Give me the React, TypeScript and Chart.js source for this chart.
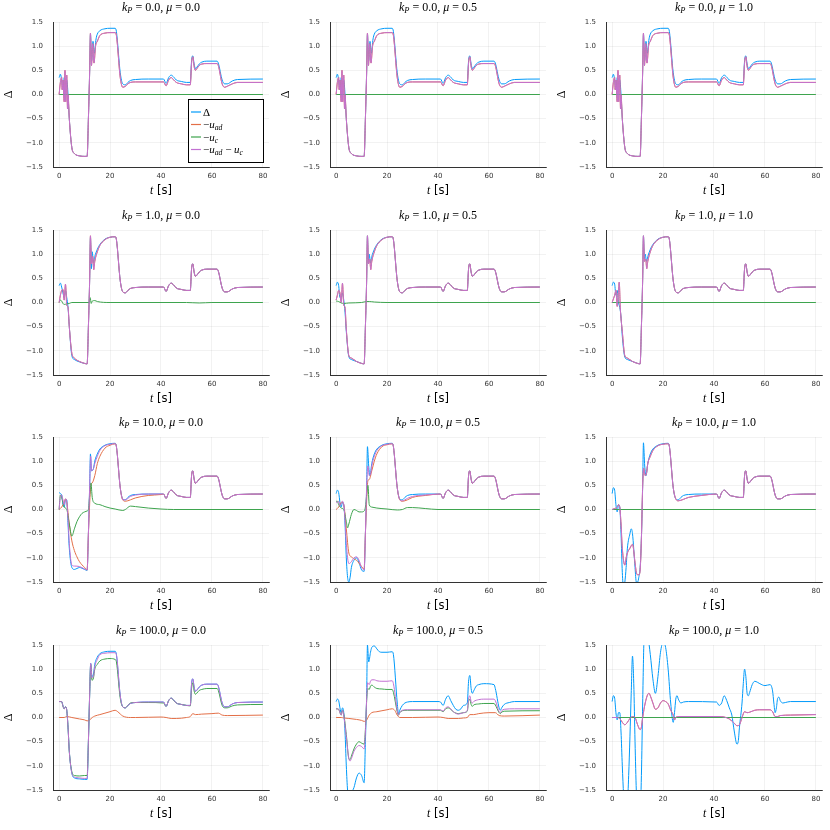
import { useEffect, useRef } from "react";
import { Chart, registerables, type ChartConfiguration } from "chart.js";

Chart.register(...registerables);

// Paleta padrão do Plots.jl
const BLUE = "#009afa";
const ORANGE = "#e36f47";
const GREEN = "#3ea44e";
const PURPLE = "#c271d2";

const SERIF = "'Liberation Serif', serif";
const SANS = "'DejaVu Sans', sans-serif";

const KP_LABELS = ["0.0", "1.0", "10.0", "100.0"];
const MU_LABELS = ["0.0", "0.5", "1.0"];
const X_TICKS = [0, 20, 40, 60, 80];
const Y_TICKS = [-1.5, -1.0, -0.5, 0.0, 0.5, 1.0, 1.5];

type Pts = number[][];

const ZERO: Pts = [[0, 0], [80, 0]];

// trechos finais comuns do Δ (t > 22)
const MID_REF: Pts = [[22.5, 1.3], [24, 0.45], [25, 0.22], [26, 0.2], [27, 0.25], [28, 0.29], [30, 0.31], [35, 0.32], [41, 0.32]];
const LATE_REF: Pts = [
  [42, 0.23], [43, 0.35], [44, 0.4], [45, 0.36], [46, 0.3], [48, 0.27], [50, 0.25], [51.5, 0.25], [52, 0.7], [52.5, 0.8],
  [53, 0.63], [53.5, 0.54], [54, 0.56], [55, 0.63], [56, 0.67], [58, 0.69], [62, 0.69], [62.5, 0.65], [64, 0.3], [65, 0.22],
  [66, 0.22], [68, 0.28], [70, 0.31], [80, 0.32],
];

// k_P = 0
const KP0_DELTA_HEAD: Pts = [
  [0, 0.35], [0.5, 0.42], [1, 0.3], [1.5, 0.1], [2, 0.35], [2.5, 0.2], [3, 0.3], [3.5, 0], [4, -0.5], [5, -1.1], [6, -1.22],
  [8, -1.27], [10, -1.28], [11, -1.28], [11.5, -0.5], [12, 0.5], [12.3, 1.25], [12.8, 0.7], [13.3, 1.1], [13.8, 0.85],
  [14.5, 1.15], [15, 1.25], [16, 1.32], [18, 1.36], [20, 1.37], [22, 1.37],
];
const KP0_CMD_HEAD: Pts = [
  [0, 0], [0.5, 0.25], [1, 0.35], [1.2, 0.1], [1.5, 0.3], [2, -0.15], [2.3, 0.5], [2.6, -0.15], [3, 0.4], [3.3, -0.3],
  [3.5, 0], [4, -0.5], [5, -1.1], [6, -1.22], [8, -1.27], [10, -1.28], [11, -1.28], [11.5, -0.5], [12, 0.5], [12.3, 1.27],
  [12.7, 0.6], [13.2, 1.05], [13.7, 0.65], [14.3, 1.0], [15, 1.1], [16, 1.22], [18, 1.27], [20, 1.28], [22, 1.28],
];
const KP0_CMD_MID: Pts = [[22.5, 1.22], [24, 0.35], [25, 0.15], [26, 0.17], [27, 0.22], [28, 0.25], [30, 0.26], [41, 0.26]];
const KP0_CMD_LATE: Pts = [
  [42, 0.18], [43, 0.3], [44, 0.35], [45, 0.3], [46, 0.25], [48, 0.22], [50, 0.2], [51.5, 0.2], [52, 0.65], [52.5, 0.78],
  [53, 0.58], [53.5, 0.5], [54, 0.53], [55, 0.6], [56, 0.63], [58, 0.64], [62, 0.64], [62.5, 0.6], [64, 0.22], [65, 0.15],
  [66, 0.17], [68, 0.22], [70, 0.25], [80, 0.25],
];

// k_P = 1
const KP1_MU0_DELTA_HEAD: Pts = [
  [0, 0.35], [0.5, 0.4], [1, 0.32], [1.5, 0.2], [2, 0.1], [2.5, 0.25], [3, 0.1], [3.5, -0.1], [4, -0.5], [5, -1.1],
  [6, -1.18], [8, -1.23], [10, -1.26], [11, -1.27], [11.5, -0.5], [12, 0.5], [12.3, 1.35], [12.7, 0.7], [13, 1.05],
  [13.5, 0.82], [14, 0.95], [15, 1.1], [16, 1.2], [18, 1.31], [20, 1.35], [22, 1.36],
];
const KP1_MU0_CMD_HEAD: Pts = [
  [0, 0], [0.5, 0.15], [1, 0.25], [1.5, 0.27], [2, 0.05], [2.5, 0.38], [3, -0.05], [3.5, -0.1], [4, -0.5], [5, -1.05],
  [6, -1.15], [8, -1.22], [10, -1.26], [11, -1.27], [11.5, -0.5], [12, 0.5], [12.3, 1.38], [12.7, 0.8], [13.2, 0.95],
  [13.6, 0.68], [14, 0.85], [15, 1.05], [16, 1.18], [18, 1.3], [20, 1.35], [22, 1.36],
];
const KP1_MU0_UC: Pts = [
  [0, 0], [0.5, 0.05], [1, 0.03], [1.5, -0.02], [2, -0.04], [3, -0.03], [4, -0.02], [5, 0], [11.8, 0], [12.2, 0.1],
  [12.6, -0.02], [13, 0.03], [14, 0.04], [15, 0.02], [20, 0], [50, 0], [55, -0.01], [60, 0], [80, 0],
];
const KP1_MU05_DELTA_HEAD: Pts = [
  [0, 0.35], [0.5, 0.42], [1, 0.35], [1.5, 0.1], [2, 0.1], [2.5, 0.2], [3, 0.05], [3.5, -0.2], [4, -0.6], [5, -1.12],
  [6, -1.18], [8, -1.22], [10, -1.26], [11, -1.27], [11.5, -0.5], [12, 0.5], [12.3, 1.38], [12.7, 0.8], [13, 1.0],
  [13.5, 0.82], [14, 0.95], [15, 1.1], [16, 1.2], [18, 1.31], [20, 1.35], [22, 1.36],
];
const KP1_MU05_CMD_HEAD: Pts = [
  [0, 0.05], [0.5, 0.15], [1, 0.25], [1.5, 0.2], [2, 0], [2.5, 0.4], [3, -0.05], [3.5, -0.1], [4, -0.55], [5, -1.1],
  [6, -1.15], [8, -1.22], [10, -1.26], [11, -1.27], [11.5, -0.5], [12, 0.5], [12.3, 1.38], [12.7, 0.8], [13.2, 0.9],
  [13.6, 0.68], [14, 0.85], [15, 1.05], [16, 1.18], [18, 1.3], [20, 1.35], [22, 1.36],
];
const KP1_MU05_UC: Pts = [
  [0, 0.03], [1, 0.02], [2, -0.01], [3, -0.02], [5, -0.01], [10, 0], [12, 0.02], [13, 0.02], [15, 0.01], [20, 0], [80, 0],
];
const KP1_MU1_DELTA_HEAD: Pts = [
  [0, 0.35], [0.5, 0.42], [1, 0.38], [1.5, 0.15], [2, 0.25], [2.5, 0], [3, -0.1], [3.5, -0.3], [4, -0.7], [5, -1.13],
  [6, -1.18], [8, -1.22], [10, -1.26], [11, -1.27], [11.5, -0.5], [12, 0.5], [12.3, 1.38], [12.7, 0.9], [13, 1.0],
  [13.5, 0.85], [14, 0.95], [15, 1.1], [16, 1.2], [18, 1.31], [20, 1.35], [22, 1.36],
];
const KP1_MU1_CMD_HEAD: Pts = [
  [0, 0], [1, 0.15], [1.5, 0.25], [2, -0.08], [2.5, 0.25], [2.8, 0.42], [3.2, -0.1], [4, -0.6], [5, -1.1], [6, -1.15],
  [8, -1.22], [10, -1.26], [11, -1.27], [11.5, -0.5], [12, 0.5], [12.3, 1.38], [12.7, 0.85], [13.2, 0.9], [13.6, 0.7],
  [14, 0.85], [15, 1.05], [16, 1.18], [18, 1.3], [20, 1.35], [22, 1.36],
];

// k_P = 10
const KP10_MU0_DELTA_HEAD: Pts = [
  [0, 0.35], [0.5, 0.33], [1, 0.3], [1.5, 0.1], [2, 0.05], [2.5, 0.2], [3, 0.2], [3.5, -0.3], [4, -0.8], [5, -1.2],
  [6, -1.24], [7, -1.22], [8, -1.2], [10, -1.24], [11, -1.26], [11.5, -0.5], [12, 0.5], [12.3, 1.15], [12.7, 0.8],
  [13.5, 0.85], [14, 1.0], [15, 1.15], [16, 1.25], [18, 1.33], [20, 1.36], [22, 1.37],
];
const KP10_MU0_UAD: Pts = [
  [0, 0], [1, 0.05], [2, 0.15], [2.5, 0.22], [3, 0.15], [4, -0.3], [5, -0.65], [6, -0.85], [7, -0.98], [8, -1.08],
  [10, -1.2], [11, -1.25], [11.5, -0.5], [12.5, 0.5], [13, 0.55], [14, 0.7], [15, 0.95], [16, 1.1], [18, 1.27], [20, 1.33],
  [22, 1.36], [22.5, 1.3], [24, 0.45], [25, 0.2], [26, 0.17], [28, 0.2], [30, 0.24], [35, 0.29], [40, 0.31], [41, 0.32],
];
const KP10_MU0_UC: Pts = [
  [0, 0], [0.5, 0.3], [1, 0.25], [2, 0.05], [3, 0], [4, -0.3], [5, -0.55], [6, -0.4], [7, -0.25], [8, -0.15], [9, -0.08],
  [10, -0.05], [11, -0.03], [11.5, 0], [12, 0.3], [12.5, 0.55], [13, 0.25], [14, 0.13], [16, 0.1], [18, 0.06], [20, 0.03],
  [22, 0.01], [25, -0.02], [26, 0], [28, 0.07], [30, 0.06], [35, 0.03], [40, 0.01], [45, 0], [80, 0],
];
const KP10_MU0_CMD: Pts = [
  [0, 0], [0.5, 0.27], [1, 0.3], [1.5, 0.2], [2, 0.1], [2.5, 0.22], [3, 0.15], [3.5, -0.2], [4, -0.7], [5, -1.15],
  [6, -1.17], [8, -1.18], [10, -1.23], [11, -1.25], [11.5, -0.5], [12, 0.5], [12.4, 1.1], [12.8, 0.8], [13.5, 0.85],
  [14, 0.95], [15, 1.1], [16, 1.22], [18, 1.32], [20, 1.35], [22, 1.36], [22.5, 1.3], [24, 0.45], [25, 0.2], [26, 0.2],
  [28, 0.27], [30, 0.3], [35, 0.32], [41, 0.32],
];
const KP10_MU05_DELTA_HEAD: Pts = [
  [0, 0.33], [0.5, 0.4], [1, 0.35], [1.5, 0.15], [2, 0.05], [2.5, 0.15], [3, 0.1], [3.5, -0.3], [4, -1.0], [4.5, -1.4],
  [5, -1.5], [5.5, -1.4], [6, -1.2], [7, -1.05], [8, -1.0], [9, -1.1], [10, -1.25], [11, -1.28], [11.5, -0.5], [12, 0.5],
  [12.3, 1.3], [12.8, 0.9], [13.3, 0.7], [14, 0.95], [15, 1.15], [16, 1.25], [18, 1.33], [20, 1.36], [22, 1.37],
];
const KP10_MU05_UAD: Pts = [
  [0, 0], [1, 0.05], [2, 0.15], [3, 0.1], [4, -0.4], [5, -0.9], [6, -0.98], [7, -1.02], [8, -1.05], [10, -1.18],
  [11, -1.23], [11.5, -0.5], [12.5, 0.6], [13, 0.62], [14, 0.8], [15, 1.0], [16, 1.15], [18, 1.3], [20, 1.34], [22, 1.36],
  [22.5, 1.3], [24, 0.45], [25, 0.2], [26, 0.17], [28, 0.2], [30, 0.25], [35, 0.29], [41, 0.32],
];
const KP10_MU05_UC: Pts = [
  [0, 0.17], [0.5, 0.17], [1, 0.1], [2, 0.03], [3, 0], [4, -0.25], [4.5, -0.38], [5, -0.3], [6, -0.1], [7, 0], [8, -0.02],
  [9, -0.05], [10, -0.05], [11, -0.03], [11.5, 0.05], [12, 0.3], [12.5, 0.5], [13, 0.1], [14, 0.05], [16, 0.03], [20, 0.01],
  [24, -0.01], [26, 0], [28, 0.04], [30, 0.04], [35, 0.02], [40, 0], [80, 0],
];
const KP10_MU05_CMD: Pts = [
  [0, 0.15], [0.5, 0.15], [1, 0.17], [1.5, 0.08], [2, 0.12], [2.5, 0.17], [3, 0.1], [3.5, -0.2], [4, -0.7], [5, -1.12],
  [6, -1.08], [7, -1.0], [8, -0.98], [9, -1.05], [10, -1.2], [11, -1.25], [11.5, -0.5], [12, 0.5], [12.5, 0.9], [13, 0.7],
  [13.5, 0.72], [14, 0.9], [15, 1.1], [16, 1.22], [18, 1.32], [20, 1.35], [22, 1.36], [22.5, 1.3], [24, 0.45], [25, 0.2],
  [26, 0.18], [28, 0.23], [30, 0.27], [35, 0.3], [41, 0.32],
];
const KP10_MU1_DELTA_HEAD: Pts = [
  [0, 0.33], [0.5, 0.45], [1, 0.4], [1.5, 0.1], [2, -0.05], [2.5, 0.1], [3, 0.05], [3.5, -0.5], [4, -1.3], [4.5, -1.6],
  [5, -1.5], [5.5, -1.2], [6, -0.8], [7, -0.5], [7.5, -0.4], [8, -0.5], [9, -1.2], [9.5, -1.5], [10, -1.5], [10.5, -1.4],
  [11, -1.2], [11.5, -0.6], [12, 0.5], [12.3, 1.38], [12.8, 0.9], [13.3, 0.7], [14, 0.95], [15, 1.15], [16, 1.25],
  [18, 1.33], [20, 1.36], [22, 1.37],
];
const KP10_MU1_CMD: Pts = [
  [0, 0], [1, 0.02], [2, 0.05], [2.5, 0.1], [3, 0.05], [3.5, -0.3], [4, -0.8], [5, -1.15], [5.5, -1.0], [6, -0.9],
  [7, -0.8], [8, -0.72], [9, -1.1], [9.5, -1.3], [10, -1.35], [10.5, -1.35], [11, -1.25], [11.5, -0.6], [12, 0.5],
  [12.4, 0.85], [13, 0.7], [13.5, 0.75], [14, 0.95], [15, 1.1], [16, 1.22], [18, 1.32], [20, 1.35], [22, 1.36], [22.5, 1.3],
  [24, 0.45], [25, 0.22], [26, 0.18], [28, 0.21], [30, 0.25], [35, 0.29], [41, 0.32],
];

// k_P = 100
const KP100_MU0_DELTA_HEAD: Pts = [
  [0, 0.33], [0.5, 0.33], [1, 0.33], [1.5, 0.25], [2, 0.18], [2.5, 0.22], [3, 0.15], [3.5, -0.2], [4, -0.7], [5, -1.15],
  [6, -1.25], [8, -1.27], [10, -1.28], [11, -1.28], [11.5, -0.5], [12, 0.5], [12.4, 1.12], [12.9, 0.85], [13.5, 0.9],
  [14, 1.1], [15, 1.25], [16, 1.32], [18, 1.36], [20, 1.37], [22, 1.37],
];
const KP100_MU0_CMD_HEAD: Pts = [
  [0, 0.33], [0.5, 0.33], [1, 0.33], [1.5, 0.24], [2, 0.18], [2.5, 0.22], [3, 0.15], [3.5, -0.2], [4, -0.7], [5, -1.15],
  [6, -1.23], [8, -1.25], [10, -1.26], [11, -1.26], [11.5, -0.5], [12, 0.5], [12.4, 1.12], [12.9, 0.82], [13.5, 0.85],
  [14, 1.05], [15, 1.2], [16, 1.3], [18, 1.33], [20, 1.34], [22, 1.34],
];
const KP100_MU0_UC: Pts = [
  [0, 0.33], [1, 0.33], [1.5, 0.23], [2, 0.18], [2.5, 0.22], [3, 0.15], [3.5, -0.2], [4, -0.7], [5, -1.12], [6, -1.2],
  [8, -1.21], [10, -1.2], [11, -1.2], [11.5, -0.5], [12, 0.5], [12.4, 1.1], [12.9, 0.77], [13.5, 0.82], [14, 1.0], [15, 1.1],
  [16, 1.17], [18, 1.21], [20, 1.22], [22, 1.2], [22.5, 1.15], [24, 0.4], [25, 0.22], [26, 0.2], [27, 0.25], [28, 0.3],
  [30, 0.31], [35, 0.31], [41, 0.3], [42, 0.23], [43, 0.35], [44, 0.4], [45, 0.35], [46, 0.3], [48, 0.27], [50, 0.25],
  [51.5, 0.24], [52, 0.6], [52.5, 0.72], [53, 0.55], [53.5, 0.48], [54, 0.5], [55, 0.56], [56, 0.58], [58, 0.6], [62, 0.6],
  [62.5, 0.56], [64, 0.25], [65, 0.2], [66, 0.2], [68, 0.24], [70, 0.26], [80, 0.27],
];
const KP100_MU0_UAD: Pts = [
  [0, 0], [2, 0], [3, 0.02], [5, 0], [8, -0.03], [10, -0.05], [11, -0.07], [12, -0.05], [13, 0], [14, 0.03], [16, 0.06],
  [18, 0.09], [20, 0.12], [22, 0.15], [23, 0.12], [25, 0.03], [28, 0], [30, 0], [40, 0.01], [42, 0], [44, -0.02], [46, -0.02],
  [50, 0], [51.5, 0.02], [52.5, 0.08], [53.5, 0.06], [56, 0.07], [60, 0.08], [62.5, 0.09], [64, 0.05], [66, 0.04], [80, 0.05],
];
const KP100_MU05_DELTA: Pts = [
  [0, 0.33], [0.5, 0.38], [1, 0.35], [1.5, 0.2], [2, 0.1], [2.5, 0.2], [3, 0.1], [3.5, -0.3], [4, -1.0], [4.5, -1.5],
  [5, -1.6], [6, -1.55], [7, -1.45], [8, -1.25], [9, -1.15], [10, -1.2], [11, -1.35], [11.5, -0.5], [12, 0.5], [12.3, 1.5],
  [12.8, 1.15], [13.5, 1.35], [14, 1.45], [15, 1.48], [16, 1.42], [17, 1.36], [18, 1.35], [20, 1.35], [22, 1.36],
  [22.5, 1.3], [24, 0.3], [24.5, 0.08], [25, 0.15], [26, 0.25], [27, 0.3], [28, 0.32], [30, 0.33], [40, 0.33], [41, 0.32],
  [42, 0.25], [43, 0.38], [44, 0.45], [45, 0.35], [46, 0.25], [47, 0.17], [48, 0.15], [49, 0.18], [50, 0.25], [51.5, 0.3],
  [52, 0.75], [52.5, 0.87], [53, 0.6], [53.5, 0.5], [54, 0.55], [55, 0.65], [56, 0.68], [58, 0.7], [62, 0.68], [62.5, 0.6],
  [64, 0.2], [64.5, 0.15], [65, 0.2], [66, 0.27], [68, 0.31], [70, 0.33], [80, 0.33],
];
const KP100_MU05_UAD: Pts = [
  [0, 0], [2, 0], [3, -0.01], [5, -0.02], [8, -0.04], [10, -0.06], [11, -0.08], [12, -0.05], [13, 0.05], [14, 0.1],
  [16, 0.12], [18, 0.14], [20, 0.16], [22, 0.18], [23, 0.15], [24, 0.05], [25, 0], [30, 0], [40, 0.01], [42, 0],
  [44, -0.02], [48, -0.02], [50, -0.01], [51.5, 0], [52.5, 0.06], [54, 0.06], [56, 0.08], [60, 0.1], [62.5, 0.1], [64, 0.04],
  [66, 0.03], [80, 0.05],
];
const KP100_MU05_UC: Pts = [
  [0, 0.18], [1, 0.17], [1.5, 0.1], [2, 0.05], [2.5, 0.15], [3, 0.07], [4, -0.35], [5, -0.85], [5.5, -0.87], [6, -0.8],
  [7, -0.65], [8, -0.55], [9, -0.5], [10, -0.53], [11, -0.55], [11.5, -0.25], [12, 0.35], [12.4, 0.6], [13, 0.58],
  [13.5, 0.65], [14, 0.67], [15, 0.63], [16, 0.6], [18, 0.59], [20, 0.58], [22, 0.58], [22.5, 0.52], [24, 0.12],
  [24.5, 0.05], [25, 0.1], [26, 0.14], [28, 0.15], [41, 0.15], [42, 0.12], [43, 0.18], [44, 0.2], [45, 0.17], [46, 0.12],
  [48, 0.08], [50, 0.1], [51.5, 0.13], [52, 0.33], [52.5, 0.38], [53, 0.27], [53.5, 0.23], [54, 0.26], [56, 0.28],
  [58, 0.29], [62, 0.29], [62.5, 0.26], [64, 0.1], [64.5, 0.08], [65, 0.11], [66, 0.13], [80, 0.14],
];
const KP100_MU05_CMD: Pts = [
  [0, 0.18], [1, 0.17], [1.5, 0.1], [2, 0.05], [2.5, 0.15], [3, 0.05], [4, -0.4], [5, -0.85], [5.5, -0.9], [6, -0.85],
  [7, -0.7], [8, -0.62], [9, -0.58], [10, -0.6], [11, -0.65], [11.5, -0.3], [12, 0.4], [12.4, 0.72], [13, 0.68],
  [13.5, 0.75], [14, 0.78], [15, 0.78], [16, 0.76], [18, 0.75], [20, 0.75], [22, 0.76], [22.5, 0.7], [24, 0.15],
  [24.5, 0.05], [25, 0.1], [26, 0.15], [28, 0.16], [41, 0.16], [42, 0.13], [43, 0.2], [44, 0.22], [45, 0.18], [46, 0.12],
  [48, 0.07], [50, 0.1], [51.5, 0.15], [52, 0.38], [52.5, 0.45], [53, 0.33], [53.5, 0.3], [54, 0.33], [56, 0.37],
  [58, 0.38], [62, 0.38], [62.5, 0.35], [64, 0.12], [64.5, 0.1], [65, 0.14], [66, 0.17], [70, 0.18], [80, 0.18],
];
const KP100_MU1_DELTA: Pts = [
  [0, 0.33], [0.5, 0.45], [1, 0.4], [1.5, 0.1], [2, -0.05], [2.5, 0.1], [3, 0.1], [3.5, -0.3], [4, -1.0], [4.5, -1.6],
  [5, -2.0], [6, -1.8], [6.5, -1.2], [7, -0.4], [7.5, 0.5], [8, 1.27], [8.5, 0.7], [9, -0.5], [9.5, -1.5], [10, -1.9],
  [11, -2.0], [11.5, -1.2], [12, 0.3], [12.5, 1.6], [13, 1.9], [14, 1.7], [15, 1.3], [16, 0.8], [17, 0.5], [18, 0.85],
  [19, 1.35], [20, 1.55], [21, 1.45], [22, 1.0], [23, 0.3], [24, -0.1], [24.5, 0.1], [25, 0.38], [25.5, 0.45], [26, 0.38],
  [27, 0.3], [28, 0.32], [30, 0.33], [41, 0.32], [42, 0.25], [43, 0.3], [44, 0.45], [45, 0.35], [46, 0.2], [47, 0.05],
  [48, -0.3], [49, -0.55], [49.5, -0.5], [50, -0.2], [51, 0.3], [51.5, 0.7], [52, 1.0], [52.5, 0.85], [53, 0.5],
  [53.5, 0.45], [54, 0.52], [55, 0.68], [56, 0.75], [57, 0.73], [58, 0.7], [60, 0.66], [62, 0.68], [63, 0.55], [63.5, 0.3],
  [64, 0.1], [64.5, 0.2], [65, 0.4], [65.5, 0.42], [66, 0.35], [67, 0.3], [68, 0.31], [70, 0.33], [80, 0.33],
];
const KP100_MU1_CMD: Pts = [
  [0, 0], [2, 0], [3, -0.02], [4, -0.1], [5, -0.15], [6, -0.1], [7, -0.02], [8, 0.02], [9, 0], [10, -0.15], [11, -0.25],
  [11.5, -0.2], [12, 0], [13, 0.3], [14, 0.48], [14.5, 0.5], [15, 0.45], [16, 0.3], [17, 0.17], [18, 0.2], [19, 0.3],
  [20, 0.35], [21, 0.33], [22, 0.28], [23, 0.15], [24, 0.05], [24.5, -0.05], [25, 0], [26, 0.02], [42, 0.02], [44, 0.01],
  [46, -0.03], [48, -0.12], [49, -0.17], [50, -0.15], [51, 0], [52, 0.12], [53, 0.1], [54, 0.11], [56, 0.15], [58, 0.16],
  [62, 0.16], [63, 0.12], [64, 0.02], [65, 0.02], [66, 0.04], [70, 0.05], [80, 0.06],
];

type Panel = { delta: Pts; uad: Pts; uc: Pts; cmd: Pts };

const kp0Delta = [...KP0_DELTA_HEAD, ...MID_REF, ...LATE_REF];
const kp0Cmd = [...KP0_CMD_HEAD, ...KP0_CMD_MID, ...KP0_CMD_LATE];
const tail = (head: Pts) => [...head, ...MID_REF, ...LATE_REF];

// linha a linha: k_P = 0, 1, 10, 100; colunas: μ = 0, 0.5, 1
const PANELS: Panel[] = [
  { delta: kp0Delta, uad: kp0Cmd, uc: ZERO, cmd: kp0Cmd },
  { delta: kp0Delta, uad: kp0Cmd, uc: ZERO, cmd: kp0Cmd },
  { delta: kp0Delta, uad: kp0Cmd, uc: ZERO, cmd: kp0Cmd },
  { delta: tail(KP1_MU0_DELTA_HEAD), uad: tail(KP1_MU0_CMD_HEAD), uc: KP1_MU0_UC, cmd: tail(KP1_MU0_CMD_HEAD) },
  { delta: tail(KP1_MU05_DELTA_HEAD), uad: tail(KP1_MU05_CMD_HEAD), uc: KP1_MU05_UC, cmd: tail(KP1_MU05_CMD_HEAD) },
  { delta: tail(KP1_MU1_DELTA_HEAD), uad: tail(KP1_MU1_CMD_HEAD), uc: ZERO, cmd: tail(KP1_MU1_CMD_HEAD) },
  { delta: tail(KP10_MU0_DELTA_HEAD), uad: [...KP10_MU0_UAD, ...LATE_REF], uc: KP10_MU0_UC, cmd: [...KP10_MU0_CMD, ...LATE_REF] },
  { delta: tail(KP10_MU05_DELTA_HEAD), uad: [...KP10_MU05_UAD, ...LATE_REF], uc: KP10_MU05_UC, cmd: [...KP10_MU05_CMD, ...LATE_REF] },
  { delta: tail(KP10_MU1_DELTA_HEAD), uad: [...KP10_MU1_CMD, ...LATE_REF], uc: ZERO, cmd: [...KP10_MU1_CMD, ...LATE_REF] },
  { delta: tail(KP100_MU0_DELTA_HEAD), uad: KP100_MU0_UAD, uc: KP100_MU0_UC, cmd: tail(KP100_MU0_CMD_HEAD) },
  { delta: KP100_MU05_DELTA, uad: KP100_MU05_UAD, uc: KP100_MU05_UC, cmd: KP100_MU05_CMD },
  { delta: KP100_MU1_DELTA, uad: KP100_MU1_CMD, uc: ZERO, cmd: KP100_MU1_CMD },
];

// --- texto "LaTeX" desenhado à mão ---
type Seg = { s: string; it?: boolean; sub?: boolean; sans?: boolean };

function segFont(g: Seg, size: number) {
  const sz = Math.round((g.sub ? size * 0.7 : size) * 10) / 10;
  return `${g.it ? "italic" : "normal"} normal 400 ${sz}px ${g.sans ? SANS : SERIF}`;
}

function drawMath(ctx: CanvasRenderingContext2D, segs: Seg[], x: number, y: number, size: number, center: boolean) {
  ctx.save();
  ctx.textAlign = "left";
  ctx.textBaseline = "alphabetic";
  ctx.fillStyle = "#000";
  let w = 0;
  for (const g of segs) {
    ctx.font = segFont(g, size);
    w += ctx.measureText(g.s).width;
  }
  let cx = center ? x - w / 2 : x;
  for (const g of segs) {
    ctx.font = segFont(g, size);
    ctx.fillText(g.s, cx, y + (g.sub ? size * 0.2 : 0));
    cx += ctx.measureText(g.s).width;
  }
  ctx.restore();
}

const LEGEND: { color: string; segs: Seg[] }[] = [
  { color: BLUE, segs: [{ s: "Δ" }] },
  { color: ORANGE, segs: [{ s: "−" }, { s: "u", it: true }, { s: "ad", it: true, sub: true }] },
  { color: GREEN, segs: [{ s: "−" }, { s: "u", it: true }, { s: "c", it: true, sub: true }] },
  {
    color: PURPLE,
    segs: [{ s: "−" }, { s: "u", it: true }, { s: "ad", it: true, sub: true }, { s: " − " }, { s: "u", it: true }, { s: "c", it: true, sub: true }],
  },
];

// bordas inteiras para que nenhum canvas seja reescalado (texto borrado)
const colEdge = (c: number) => Math.round((c * 830) / 3);
const rowEdge = (r: number) => Math.round(r * 207.5);

function Painel({ index }: { index: number }) {
  const canvasRef = useRef<HTMLCanvasElement>(null);
  const col = index % 3;
  const row = Math.floor(index / 3);
  const left = colEdge(col);
  const top = rowEdge(row);
  const width = colEdge(col + 1) - left;
  const height = rowEdge(row + 1) - top;

  useEffect(() => {
    const canvas = canvasRef.current;
    if (!canvas) return;
    const p = PANELS[index];
    const kp = KP_LABELS[row];
    const mu = MU_LABELS[col];
    const toXY = (pts: Pts) => pts.map(([x, y]) => ({ x, y }));
    const serie = (pts: Pts, color: string, order: number) => ({
      data: toXY(pts),
      borderColor: color,
      borderWidth: 1,
      pointRadius: 0,
      cubicInterpolationMode: "monotone" as const,
      order,
    });

    const config: ChartConfiguration<"line"> = {
      type: "line",
      data: {
        datasets: [serie(p.delta, BLUE, 4), serie(p.uad, ORANGE, 3), serie(p.uc, GREEN, 2), serie(p.cmd, PURPLE, 1)],
      },
      options: {
        animation: false,
        responsive: false,
        devicePixelRatio: 1,
        layout: { padding: { top: 22, right: width - 269, left: 0, bottom: 0 } },
        plugins: { legend: { display: false }, tooltip: { enabled: false } },
        scales: {
          x: {
            type: "linear",
            min: -2.4,
            max: 82.4,
            afterBuildTicks: (s) => {
              s.ticks = X_TICKS.map((value) => ({ value }));
            },
            afterFit: (s) => {
              s.height = height - 167;
            },
            grid: { color: "rgba(0,0,0,0.1)", lineWidth: 0.5, drawTicks: false },
            border: { color: "#333", width: 1 },
            ticks: { padding: 5, maxRotation: 0, color: "#333", font: { family: SANS, size: 7 } },
          },
          y: {
            type: "linear",
            min: -1.5,
            max: 1.5,
            afterBuildTicks: (s) => {
              s.ticks = Y_TICKS.map((value) => ({ value }));
            },
            afterFit: (s) => {
              s.width = 53;
            },
            grid: { color: "rgba(0,0,0,0.1)", lineWidth: 0.5, drawTicks: false },
            border: { color: "#333", width: 1 },
            ticks: {
              padding: 10,
              color: "#333",
              font: { family: SANS, size: 7 },
              callback: (v) => Number(v).toFixed(1).replace("-", "−"),
            },
          },
        },
      },
      plugins: [
        {
          id: "decor",
          afterDraw(chart) {
            const ctx = chart.ctx;
            const a = chart.chartArea;
            const cxm = (a.left + a.right) / 2;
            drawMath(
              ctx,
              [{ s: "k", it: true }, { s: "P", it: true, sub: true }, { s: " = " + kp + ", " }, { s: "μ", it: true }, { s: " = " + mu }],
              cxm,
              11,
              12,
              true,
            );
            drawMath(ctx, [{ s: "t", it: true }, { s: " [s]", sans: true }], cxm, a.bottom + 27, 11.5, true);
            ctx.save();
            ctx.translate(12, (a.top + a.bottom) / 2);
            ctx.rotate(-Math.PI / 2);
            drawMath(ctx, [{ s: "Δ" }], 0, 0, 12, true);
            ctx.restore();

            if (index === 0) {
              ctx.save();
              ctx.fillStyle = "#fff";
              ctx.strokeStyle = "#000";
              ctx.lineWidth = 1;
              ctx.fillRect(188.5, 99.5, 75, 63);
              ctx.strokeRect(188.5, 99.5, 75, 63);
              LEGEND.forEach((e, i) => {
                const yc = 112 + i * 12.5;
                ctx.strokeStyle = e.color;
                ctx.lineWidth = 1.2;
                ctx.beginPath();
                ctx.moveTo(191, yc);
                ctx.lineTo(201, yc);
                ctx.stroke();
                drawMath(ctx, e.segs, 203, yc + 3.5, 11, false);
              });
              ctx.restore();
            }
          },
        },
      ],
    };

    const chart = new Chart(canvas, config);
    return () => chart.destroy();
  }, [index, col, row, width, height]);

  return (
    <div style={{ position: "absolute", left, top, width, height }}>
      <canvas ref={canvasRef} width={width} height={height} style={{ display: "block", width, height }}></canvas>
    </div>
  );
}

export default function App() {
  return (
    <div style={{ position: "absolute", left: 0, top: 0, width: 830, height: 830, background: "#fff" }}>
      {PANELS.map((_, i) => (
        <Painel key={i} index={i} />
      ))}
    </div>
  );
}
